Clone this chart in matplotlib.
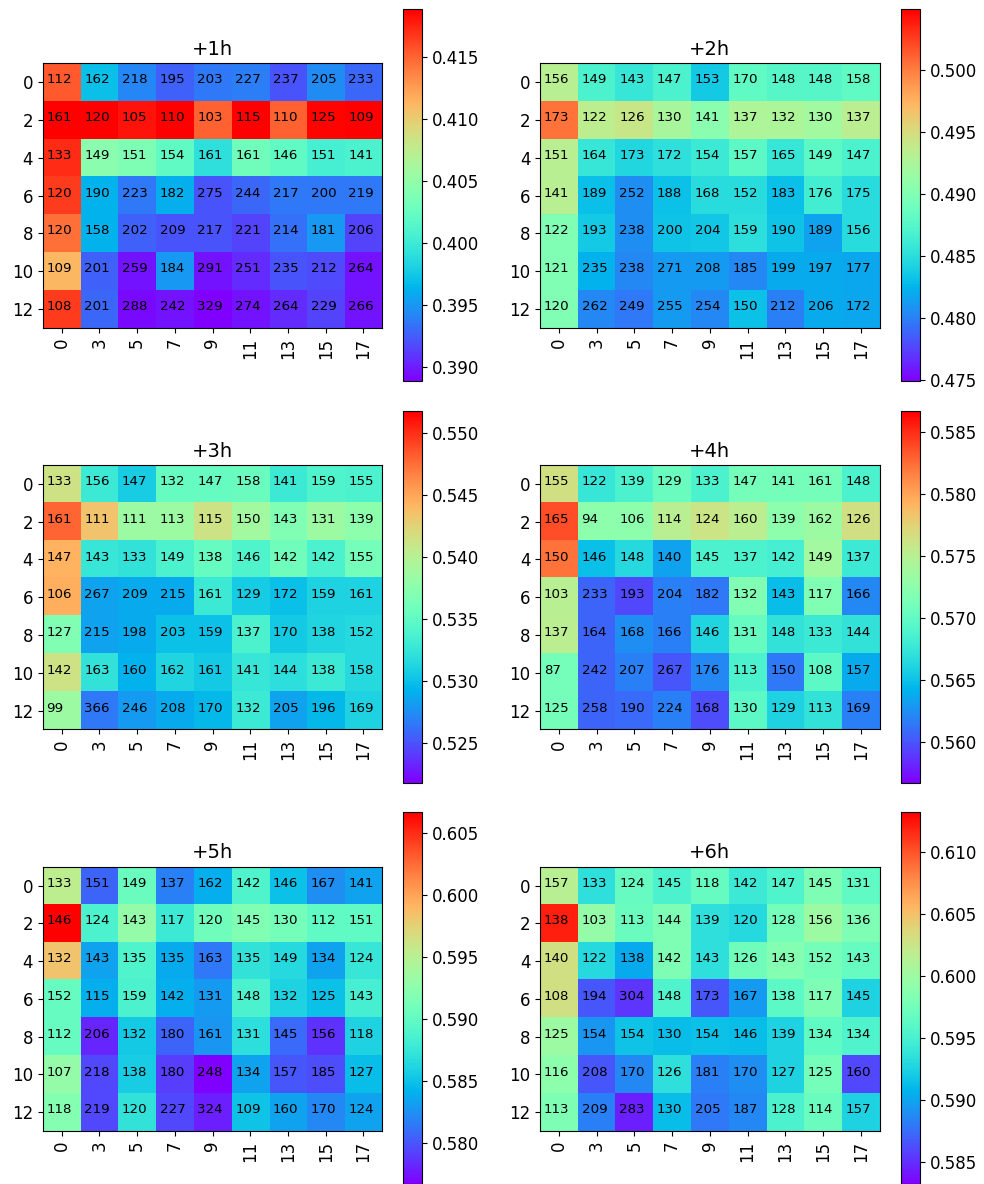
import numpy as np
import matplotlib
matplotlib.use('Agg')
import matplotlib.pyplot as plt

hours = ['+1h', '+2h', '+3h', '+4h', '+5h', '+6h']
row_labels = [0, 2, 4, 6, 8, 10, 12]
col_labels = [0, 3, 5, 7, 9, 11, 13, 15, 17]

# colour limits of each colorbar
vmins = [0.3889, 0.4749, 0.5218, 0.5567, 0.5767, 0.5832]
vmaxs = [0.4189, 0.5049, 0.5518, 0.5867, 0.6067, 0.6132]

# score per cell (colour)
acc_1h = [[0.4154, 0.3970, 0.3942, 0.3927, 0.3936, 0.3939, 0.3921, 0.3945, 0.3930],
          [0.4190, 0.4190, 0.4181, 0.4190, 0.4151, 0.4190, 0.4151, 0.4187, 0.4190],
          [0.4172, 0.4045, 0.4039, 0.4021, 0.3991, 0.4030, 0.4021, 0.4006, 0.4009],
          [0.4166, 0.3964, 0.3936, 0.3961, 0.3921, 0.3930, 0.3936, 0.3936, 0.3936],
          [0.4145, 0.3964, 0.3927, 0.3921, 0.3921, 0.3915, 0.3933, 0.3951, 0.3915],
          [0.4112, 0.3927, 0.3897, 0.3951, 0.3897, 0.3906, 0.3921, 0.3918, 0.3897],
          [0.4166, 0.3930, 0.3893, 0.3897, 0.3888, 0.3897, 0.3906, 0.3915, 0.3897]]
acc_2h = [[0.4932, 0.4869, 0.4857, 0.4869, 0.4836, 0.4881, 0.4875, 0.4875, 0.4881],
          [0.5004, 0.4935, 0.4941, 0.4923, 0.4905, 0.4926, 0.4925, 0.4919, 0.4934],
          [0.4932, 0.4857, 0.4845, 0.4851, 0.4860, 0.4878, 0.4857, 0.4878, 0.4869],
          [0.4932, 0.4830, 0.4806, 0.4832, 0.4848, 0.4848, 0.4830, 0.4863, 0.4848],
          [0.4899, 0.4836, 0.4806, 0.4833, 0.4835, 0.4850, 0.4833, 0.4815, 0.4848],
          [0.4899, 0.4823, 0.4803, 0.4812, 0.4812, 0.4803, 0.4820, 0.4820, 0.4817],
          [0.4899, 0.4803, 0.4797, 0.4812, 0.4803, 0.4832, 0.4800, 0.4820, 0.4817]]
acc_3h = [[0.5413, 0.5329, 0.5308, 0.5353, 0.5353, 0.5356, 0.5329, 0.5341, 0.5338],
          [0.5479, 0.5434, 0.5385, 0.5385, 0.5413, 0.5388, 0.5368, 0.5385, 0.5376],
          [0.5443, 0.5326, 0.5323, 0.5338, 0.5353, 0.5341, 0.5359, 0.5338, 0.5362],
          [0.5446, 0.5284, 0.5289, 0.5289, 0.5329, 0.5307, 0.5299, 0.5311, 0.5311],
          [0.5368, 0.5284, 0.5289, 0.5301, 0.5301, 0.5338, 0.5305, 0.5312, 0.5316],
          [0.5413, 0.5323, 0.5293, 0.5312, 0.5305, 0.5326, 0.5319, 0.5329, 0.5316],
          [0.5385, 0.5266, 0.5281, 0.5289, 0.5296, 0.5329, 0.5284, 0.5296, 0.5311]]
acc_4h = [[0.5765, 0.5675, 0.5687, 0.5705, 0.5687, 0.5711, 0.5711, 0.5711, 0.5687],
          [0.5837, 0.5725, 0.5725, 0.5750, 0.5761, 0.5752, 0.5725, 0.5734, 0.5765],
          [0.5822, 0.5648, 0.5665, 0.5633, 0.5687, 0.5687, 0.5684, 0.5737, 0.5678],
          [0.5750, 0.5606, 0.5594, 0.5618, 0.5615, 0.5717, 0.5647, 0.5717, 0.5621],
          [0.5752, 0.5606, 0.5624, 0.5618, 0.5661, 0.5702, 0.5672, 0.5678, 0.5672],
          [0.5711, 0.5606, 0.5618, 0.5600, 0.5621, 0.5687, 0.5615, 0.5696, 0.5638],
          [0.5711, 0.5606, 0.5609, 0.5618, 0.5597, 0.5696, 0.5660, 0.5672, 0.5618]]
acc_5h = [[0.5953, 0.5806, 0.5905, 0.5818, 0.5839, 0.5890, 0.5850, 0.5824, 0.5833],
          [0.6067, 0.5887, 0.5929, 0.5878, 0.5908, 0.5917, 0.5911, 0.5899, 0.5899],
          [0.5983, 0.5833, 0.5890, 0.5838, 0.5814, 0.5872, 0.5865, 0.5833, 0.5875],
          [0.5902, 0.5839, 0.5887, 0.5839, 0.5830, 0.5887, 0.5860, 0.5850, 0.5884],
          [0.5902, 0.5782, 0.5854, 0.5806, 0.5827, 0.5868, 0.5809, 0.5786, 0.5860],
          [0.5929, 0.5794, 0.5857, 0.5791, 0.5767, 0.5833, 0.5800, 0.5797, 0.5847],
          [0.5920, 0.5794, 0.5872, 0.5794, 0.5779, 0.5851, 0.5833, 0.5821, 0.5833]]
acc_6h = [[0.6015, 0.5934, 0.5967, 0.5952, 0.5967, 0.5943, 0.5955, 0.5982, 0.5964],
          [0.6120, 0.5994, 0.5970, 0.5982, 0.5934, 0.5930, 0.5976, 0.5999, 0.5982],
          [0.6030, 0.5930, 0.5903, 0.5982, 0.5934, 0.5973, 0.5985, 0.5976, 0.5967],
          [0.6030, 0.5865, 0.5852, 0.5955, 0.5865, 0.5895, 0.5961, 0.5982, 0.5925],
          [0.5999, 0.5892, 0.5916, 0.5912, 0.5915, 0.5912, 0.5925, 0.5964, 0.5955],
          [0.5990, 0.5865, 0.5886, 0.5934, 0.5883, 0.5889, 0.5925, 0.5976, 0.5859],
          [0.5982, 0.5883, 0.5844, 0.5912, 0.5880, 0.5886, 0.5952, 0.5970, 0.5925]]

# sample counts per cell (text)
cnt_1h = [[112, 162, 218, 195, 203, 227, 237, 205, 233],
          [161, 120, 105, 110, 103, 115, 110, 125, 109],
          [133, 149, 151, 154, 161, 161, 146, 151, 141],
          [120, 190, 223, 182, 275, 244, 217, 200, 219],
          [120, 158, 202, 209, 217, 221, 214, 181, 206],
          [109, 201, 259, 184, 291, 251, 235, 212, 264],
          [108, 201, 288, 242, 329, 274, 264, 229, 266]]
cnt_2h = [[156, 149, 143, 147, 153, 170, 148, 148, 158],
          [173, 122, 126, 130, 141, 137, 132, 130, 137],
          [151, 164, 173, 172, 154, 157, 165, 149, 147],
          [141, 189, 252, 188, 168, 152, 183, 176, 175],
          [122, 193, 238, 200, 204, 159, 190, 189, 156],
          [121, 235, 238, 271, 208, 185, 199, 197, 177],
          [120, 262, 249, 255, 254, 150, 212, 206, 172]]
cnt_3h = [[133, 156, 147, 132, 147, 158, 141, 159, 155],
          [161, 111, 111, 113, 115, 150, 143, 131, 139],
          [147, 143, 133, 149, 138, 146, 142, 142, 155],
          [106, 267, 209, 215, 161, 129, 172, 159, 161],
          [127, 215, 198, 203, 159, 137, 170, 138, 152],
          [142, 163, 160, 162, 161, 141, 144, 138, 158],
          [99, 366, 246, 208, 170, 132, 205, 196, 169]]
cnt_4h = [[155, 122, 139, 129, 133, 147, 141, 161, 148],
          [165, 94, 106, 114, 124, 160, 139, 162, 126],
          [150, 146, 148, 140, 145, 137, 142, 149, 137],
          [103, 233, 193, 204, 182, 132, 143, 117, 166],
          [137, 164, 168, 166, 146, 131, 148, 133, 144],
          [87, 242, 207, 267, 176, 113, 150, 108, 157],
          [125, 258, 190, 224, 168, 130, 129, 113, 169]]
cnt_5h = [[133, 151, 149, 137, 162, 142, 146, 167, 141],
          [146, 124, 143, 117, 120, 145, 130, 112, 151],
          [132, 143, 135, 135, 163, 135, 149, 134, 124],
          [152, 115, 159, 142, 131, 148, 132, 125, 143],
          [112, 206, 132, 180, 161, 131, 145, 156, 118],
          [107, 218, 138, 180, 248, 134, 157, 185, 127],
          [118, 219, 120, 227, 324, 109, 160, 170, 124]]
cnt_6h = [[157, 133, 124, 145, 118, 142, 147, 145, 131],
          [138, 103, 113, 144, 139, 120, 128, 156, 136],
          [140, 122, 138, 142, 143, 126, 143, 152, 143],
          [108, 194, 304, 148, 173, 167, 138, 117, 145],
          [125, 154, 154, 130, 154, 146, 139, 134, 134],
          [116, 208, 170, 126, 181, 170, 127, 125, 160],
          [113, 209, 283, 130, 205, 187, 128, 114, 157]]

accs = [acc_1h, acc_2h, acc_3h, acc_4h, acc_5h, acc_6h]
cnts = [cnt_1h, cnt_2h, cnt_3h, cnt_4h, cnt_5h, cnt_6h]

W, H = 984, 1184
fig = plt.figure(figsize=(W / 100, H / 100), dpi=100)

ax_left = [42.7, 540.0]
cb_left = [403.3, 900.7]
ax_top = [63.3, 465.0, 866.7]
cb_top = [9.0, 410.7, 812.3]
ax_w, ax_h = 339.6, 264.4
cb_w, cb_h = 19.0, 372.0

for k in range(6):
    r, c = k // 2, k % 2
    ax = fig.add_axes([ax_left[c] / W, (H - ax_top[r] - ax_h) / H, ax_w / W, ax_h / H])
    cax = fig.add_axes([cb_left[c] / W, max(H - cb_top[r] - cb_h, 0) / H, cb_w / W, cb_h / H])

    data = np.array(accs[k])
    im = ax.imshow(data, cmap='rainbow', vmin=vmins[k], vmax=vmaxs[k], aspect='auto')
    for i in range(data.shape[0]):
        for j in range(data.shape[1]):
            ax.text(j - 0.4, i + 0.03, str(cnts[k][i][j]), fontsize=9.6, color='black')

    ax.set_xticks(range(len(col_labels)))
    ax.set_xticklabels(col_labels, rotation=90)
    ax.set_yticks(range(len(row_labels)))
    ax.set_yticklabels(row_labels)
    ax.tick_params(labelsize=12)
    ax.set_title(hours[k], fontsize=14)

    cb = fig.colorbar(im, cax=cax)
    cb.ax.tick_params(labelsize=12)

fig.savefig('out.png', dpi=100)
